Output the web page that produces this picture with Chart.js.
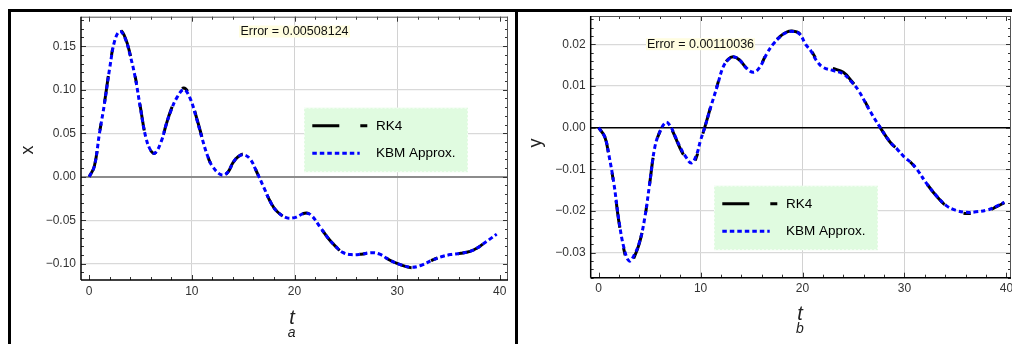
<!DOCTYPE html>
<html><head><meta charset="utf-8">
<script src="https://cdn.jsdelivr.net/npm/chart.js@4.4.1/dist/chart.umd.min.js"></script>
<style>
html,body{margin:0;padding:0;background:#fff;width:1012px;height:344px;overflow:hidden;}
.bar{position:absolute;background:#000;}
canvas{position:absolute;}
</style></head><body>
<div class="bar" style="left:8px;top:9px;width:1004px;height:3px"></div>
<div class="bar" style="left:8px;top:9px;width:3px;height:335px"></div>
<div class="bar" style="left:515px;top:9px;width:3px;height:335px"></div>
<canvas id="cA" width="504" height="332" style="left:11px;top:12px"></canvas>
<canvas id="cB" width="494" height="332" style="left:518px;top:12px"></canvas>
<script>
// ---------- DATA ----------
const tA = [0,0.5,1,1.5,2,2.5,3,3.5,4,4.5,5,5.5,6,6.4,7,7.5,8,8.5,9.2,9.8,10.5,11,11.5,12,12.9,13.5,14,14.5,15.1,15.7,16.3,17,17.7,18.3,19.2,20,21,21.6,22.5,23.3,24,24.7,25.5,26.5,27.5,28.3,29.3,30.3,31.4,32.3,33.4,34.3,35.2,36.2,37.1,37.8,38.4,39,39.7];
const rk4A = [0,0.012,0.050,0.086,0.126,0.158,0.168,0.160,0.140,0.114,0.079,0.046,0.030,0.027,0.040,0.060,0.078,0.091,0.102,0.093,0.066,0.045,0.025,0.012,0.0015,0.005,0.016,0.023,0.026,0.021,0.006,-0.012,-0.030,-0.040,-0.047,-0.0475,-0.042,-0.044,-0.058,-0.071,-0.080,-0.087,-0.0895,-0.089,-0.0873,-0.089,-0.096,-0.101,-0.1045,-0.102,-0.096,-0.092,-0.0895,-0.088,-0.0858,-0.082,-0.077,-0.072,-0.066];
const kbmA = [0,0.012,0.050,0.085,0.125,0.157,0.167,0.159,0.139,0.113,0.078,0.046,0.030,0.027,0.040,0.060,0.077,0.090,0.100,0.091,0.065,0.044,0.025,0.012,0.002,0.005,0.016,0.023,0.025,0.020,0.006,-0.012,-0.030,-0.040,-0.047,-0.047,-0.042,-0.044,-0.058,-0.071,-0.080,-0.087,-0.0895,-0.089,-0.0873,-0.089,-0.096,-0.101,-0.104,-0.102,-0.096,-0.092,-0.0895,-0.088,-0.0858,-0.082,-0.077,-0.072,-0.066];

const tB = [0,0.6,1,1.5,2,2.5,3,3.5,4,4.5,5,5.5,6,6.6,7,7.5,8,8.5,9.1,9.6,10,10.4,11,11.6,12.2,12.7,13.2,13.8,14.5,15.2,15.8,16.5,17.1,17.8,18.4,19,19.7,20.3,20.8,21.4,22,23,24,24.8,25.5,26.5,27.6,28.6,29.3,30,30.6,31.2,32.2,33.2,34.1,35,36.1,37,38.2,39,39.8];
const rk4B = [0,-0.0022,-0.0066,-0.0137,-0.0228,-0.0295,-0.0332,-0.0310,-0.0277,-0.0221,-0.0135,-0.0050,-0.0010,0.0013,0.0004,-0.0022,-0.0050,-0.0072,-0.0092,-0.0070,-0.0032,0.0000,0.0051,0.0099,0.0146,0.0164,0.0170,0.0163,0.0143,0.0133,0.0146,0.0179,0.0201,0.0219,0.0229,0.0232,0.0226,0.0201,0.0187,0.0163,0.0150,0.0142,0.0133,0.0112,0.0090,0.0046,0.0001,-0.0035,-0.0052,-0.0071,-0.0083,-0.0100,-0.0135,-0.0166,-0.0188,-0.0200,-0.0206,-0.0204,-0.0199,-0.0190,-0.0180];
const kbmB = [0,-0.0022,-0.0065,-0.0135,-0.0225,-0.0290,-0.0320,-0.0305,-0.0275,-0.0220,-0.0135,-0.0048,-0.0010,0.0013,0.0005,-0.0020,-0.0047,-0.0068,-0.0085,-0.0065,-0.0030,0.0000,0.0050,0.0097,0.0145,0.0163,0.0170,0.0163,0.0143,0.0133,0.0145,0.0178,0.0200,0.0218,0.0228,0.0231,0.0225,0.0200,0.0185,0.0160,0.0145,0.0137,0.0129,0.0110,0.0089,0.0045,0.0001,-0.0035,-0.0052,-0.0071,-0.0083,-0.0099,-0.0135,-0.0165,-0.0187,-0.0198,-0.0203,-0.0202,-0.0197,-0.0189,-0.0179];

const xTickValues = [0,10,20,30,40];
const xTickLabels = ['0','10','20','30','40'];
const yTickValuesA = [-0.10,-0.05,0,0.05,0.10,0.15];
const yTickLabelsA = ['\u22120.10','\u22120.05','0.00','0.05','0.10','0.15'];
const yTickValuesB = [-0.03,-0.02,-0.01,0,0.01,0.02];
const yTickLabelsB = ['\u22120.03','\u22120.02','\u22120.01','0.00','0.01','0.02'];
const legendLabels = ['RK4','KBM Approx.'];
const errorTextA = 'Error = 0.00508124';
const errorTextB = 'Error = 0.00110036';
const yTitleA = 'x', yTitleB = 'y', xTitle = 't', subTitleA = 'a', subTitleB = 'b';

// ---------- RENDERING ----------
const FONT = '"Liberation Sans", Arial, "DejaVu Sans", sans-serif';
const RK4_DASH = [27,21,7,21];
const KBM_DASH = [4.5,3];

const decoPlugin = {
  id: 'deco',
  afterDraw(chart) {
    const o = chart.options.plugins.deco;
    const ctx = chart.ctx, a = chart.chartArea;
    const xs = chart.scales.x, ys = chart.scales.y;
    const ln = (x1,y1,x2,y2) => { ctx.beginPath(); ctx.moveTo(x1,y1); ctx.lineTo(x2,y2); ctx.stroke(); };
    ctx.save();
    ctx.strokeStyle = '#333'; ctx.lineWidth = 1; ctx.setLineDash([]);
    const loop = (min, max, step, major, cb) => {
      for (let k = Math.ceil(min/step - 1e-9); k*step <= max + 1e-9; k++) {
        const v = k*step; const r = v/major;
        cb(v, Math.abs(r - Math.round(r)) < 1e-6);
      }
    };
    loop(xs.min, xs.max, o.xMinor, o.xMajor, (v, M) => {
      const p = Math.round(xs.getPixelForValue(v)) + 0.5, L = M ? 5 : 3;
      ln(p, a.bottom, p, a.bottom - L); ln(p, a.top, p, a.top + L);
    });
    loop(ys.min, ys.max, o.yMinor, o.yMajor, (v, M) => {
      const p = Math.round(ys.getPixelForValue(v)) + 0.5, L = M ? 5 : 3;
      ln(a.left, p, a.left + L, p); ln(a.right, p, a.right - L, p);
    });
    ctx.strokeStyle = '#555'; ctx.lineWidth = 1;
    ln(a.left, a.top + 0.5, a.right, a.top + 0.5);
    ln(a.right - 0.5, a.top, a.right - 0.5, a.bottom);
    ctx.strokeStyle = '#000'; ctx.lineWidth = 1.5;
    ln(a.left, a.bottom, a.right, a.bottom);
    ln(a.left, a.top, a.left, a.bottom);
    ctx.fillStyle = '#222';
    ctx.font = '18px ' + FONT; ctx.textAlign = 'center'; ctx.textBaseline = 'middle';
    ctx.save(); ctx.translate(o.yTitlePos[0], o.yTitlePos[1]); ctx.rotate(-Math.PI/2);
    ctx.fillText(o.yTitle, 0, 0); ctx.restore();
    ctx.textBaseline = 'alphabetic';
    ctx.font = 'italic 20px ' + FONT; ctx.fillText(xTitle, o.xTitlePos[0], o.xTitlePos[1]);
    ctx.font = 'italic 14px ' + FONT; ctx.fillText(o.sub, o.subPos[0], o.subPos[1]);
    ctx.font = '12.5px ' + FONT; ctx.textBaseline = 'middle';
    const e = o.err;
    ctx.fillStyle = '#fffde0';
    ctx.fillRect(e.x - e.w/2, e.y - e.h/2, e.w, e.h);
    ctx.fillStyle = '#111'; ctx.fillText(o.errText, e.x, e.y + 0.5);
    const lg = o.legend;
    ctx.fillStyle = '#e0fbe0';
    ctx.fillRect(lg.x, lg.y, lg.w, lg.h);
    ctx.strokeStyle = 'rgba(255,255,255,0.7)'; ctx.lineWidth = 1; ctx.setLineDash([2,2]);
    ctx.strokeRect(lg.x + 0.5, lg.y + 0.5, lg.w - 1, lg.h - 1);
    const ds = chart.data.datasets;
    const rows = [lg.y + 18, lg.y + 45.5];
    const ends = [lg.x + 63.3, lg.x + 55.7];
    ds.forEach((d, i) => {
      ctx.strokeStyle = d.borderColor; ctx.lineWidth = d.borderWidth; ctx.setLineDash(d.borderDash);
      ctx.lineCap = 'butt';
      ln(lg.x + 8.3, rows[i], ends[i], rows[i]);
      ctx.setLineDash([]);
      ctx.fillStyle = '#000'; ctx.font = '13.5px ' + FONT; ctx.textAlign = 'left'; ctx.textBaseline = 'middle';
      ctx.fillText(d.label, lg.x + 72, rows[i] + 0.5);
    });
    ctx.restore();
  }
};

function makeChart(id, t, rk, kb, yVals, yLabels, L) {
  const cv = document.getElementById(id);
  return new Chart(cv, {
    type: 'line',
    data: {
      datasets: [
        { label: legendLabels[0], data: t.map((x,i)=>({x, y: rk[i]})), borderColor: '#000', borderWidth: 3,
          borderDash: RK4_DASH, pointRadius: 0, fill: false, tension: 0.4, order: 2 },
        { label: legendLabels[1], data: t.map((x,i)=>({x, y: kb[i]})), borderColor: '#0000ff', borderWidth: 3,
          borderDash: KBM_DASH, pointRadius: 0, fill: false, tension: 0.4, order: 1 }
      ]
    },
    options: {
      responsive: false, animation: false, devicePixelRatio: 1,
      layout: { padding: { left: 0, top: L.top, right: cv.width - L.right, bottom: 0 } },
      plugins: { legend: { display: false }, tooltip: { enabled: false }, deco: L.deco },
      scales: {
        x: {
          type: 'linear', min: L.xMin, max: L.xMax, bounds: 'data',
          afterBuildTicks: s => { s.ticks = xTickValues.map(v => ({ value: v })); },
          afterFit: s => { s.height = cv.height - L.bottom; s.paddingLeft = 0; s.paddingRight = 0; },
          ticks: { callback: (v, i) => xTickLabels[i], font: { family: FONT, size: 12 }, color: '#333',
                   padding: 4, maxRotation: 0, autoSkip: false },
          grid: { drawTicks: false, lineWidth: 1,
                  color: c => (c.tick && c.tick.value > xTickValues[0] && c.tick.value < xTickValues[xTickValues.length-1]) ? '#d2d2d2' : 'rgba(0,0,0,0)' },
          border: { display: false }
        },
        y: {
          type: 'linear', min: L.yMin, max: L.yMax, bounds: 'data',
          afterBuildTicks: s => { s.ticks = yVals.map(v => ({ value: v })); },
          afterFit: s => { s.width = L.left; s.paddingTop = 0; s.paddingBottom = 0; },
          ticks: { callback: (v, i) => yLabels[i], font: { family: FONT, size: 12 }, color: '#333',
                   padding: 5, autoSkip: false },
          grid: { drawTicks: false,
                  lineWidth: c => (c.tick && c.tick.value === 0) ? L.zeroWidth : 1.3,
                  color: c => (c.tick && c.tick.value === 0) ? L.zeroColor : '#d9d9d9' },
          border: { display: false }
        }
      }
    },
    plugins: [decoPlugin]
  });
}

makeChart('cA', tA, rk4A, kbmA, yTickValuesA, yTickLabelsA, {
  left: 70, right: 497, top: 4.7, bottom: 268,
  xMin: -0.8, xMax: 40.8, yMin: -0.1187, yMax: 0.1839,
  zeroColor: '#8c8c8c', zeroWidth: 2,
  deco: { xMinor: 2, xMajor: 10, yMinor: 0.01, yMajor: 0.05,
          yTitle: yTitleA, yTitlePos: [17, 138], xTitlePos: [281, 312], sub: subTitleA, subPos: [280.7, 325],
          errText: errorTextA, err: { x: 283.5, y: 19.5, w: 111, h: 12 },
          legend: { x: 293, y: 95.7, w: 164, h: 64.5 } }
});
makeChart('cB', tB, rk4B, kbmB, yTickValuesB, yTickLabelsB, {
  left: 72.7, right: 493, top: 4, bottom: 265.7,
  xMin: -0.78, xMax: 40.45, yMin: -0.036, yMax: 0.0268,
  zeroColor: '#000', zeroWidth: 1.5,
  deco: { xMinor: 2, xMajor: 10, yMinor: 0.002, yMajor: 0.01,
          yTitle: yTitleB, yTitlePos: [18, 131], xTitlePos: [282, 308], sub: subTitleB, subPos: [282, 321],
          errText: errorTextB, err: { x: 182.5, y: 32.2, w: 109, h: 12 },
          legend: { x: 196, y: 173.7, w: 164, h: 64.5 } }
});
</script>
</body></html>
